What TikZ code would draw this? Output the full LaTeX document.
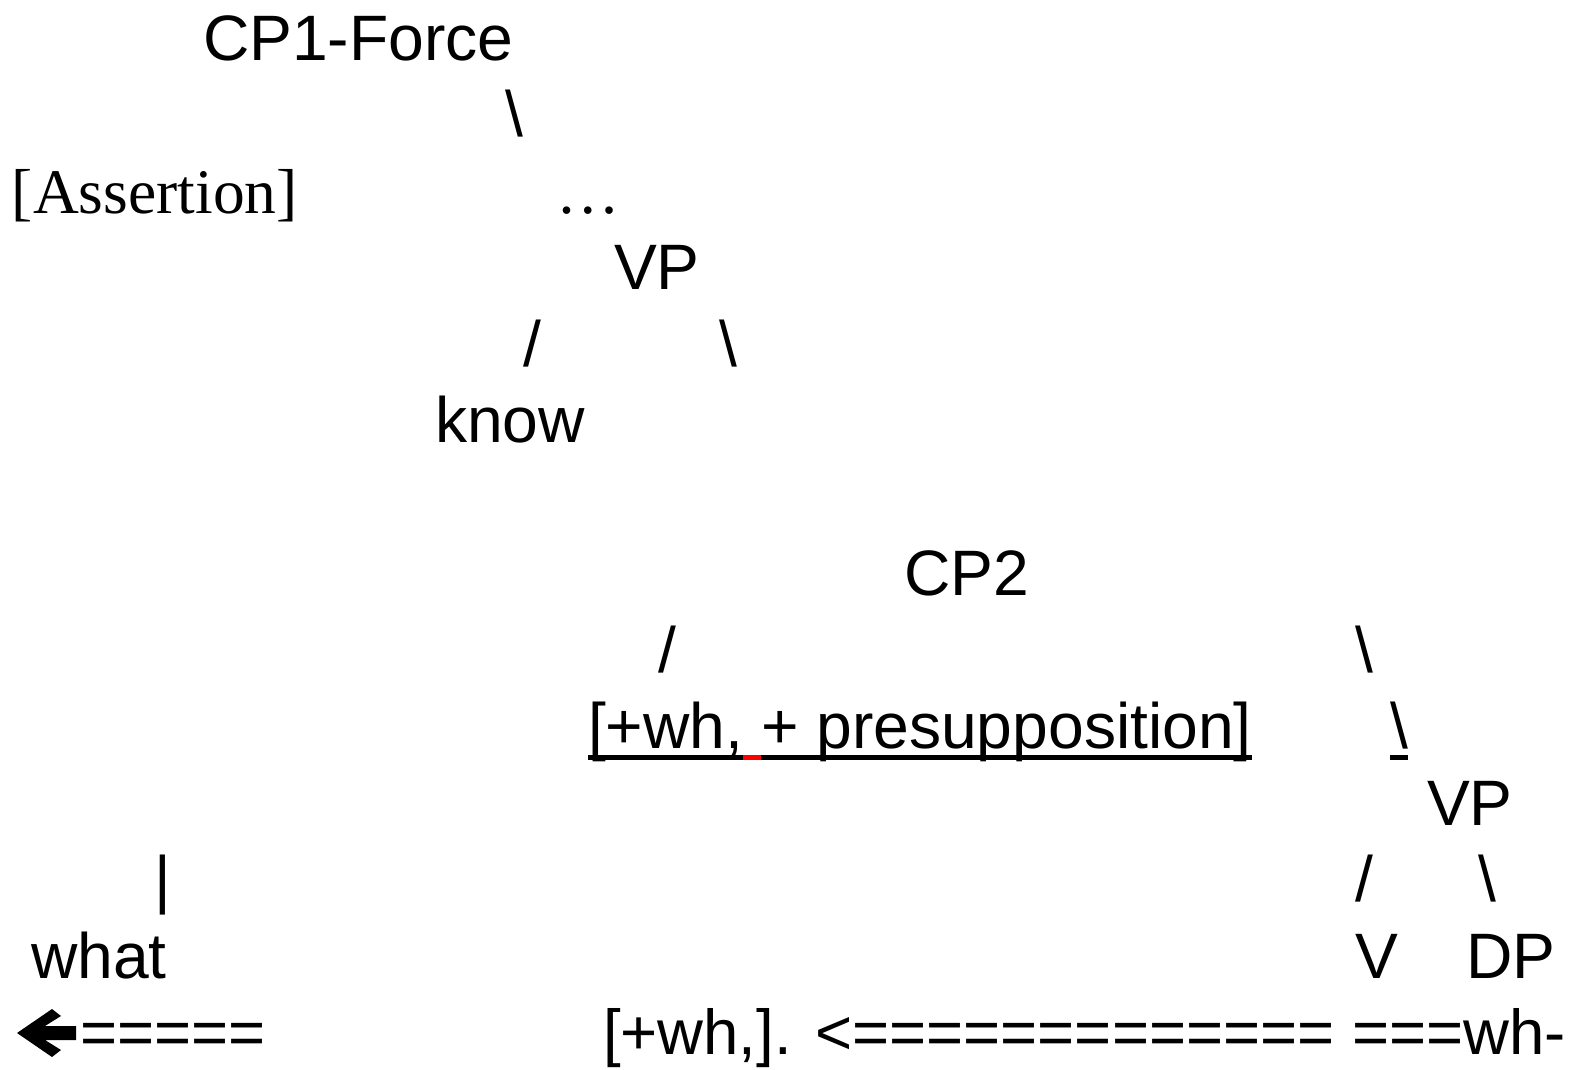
\documentclass[tikz,border=0pt]{standalone}
\usepackage{fontspec}
\setmainfont{Liberation Sans}
\newfontfamily\timesfont{Liberation Serif}
\begin{document}
\begin{tikzpicture}[x=1pt,y=-1pt,
  word/.style={inner sep=0pt, outer sep=0pt, anchor=base west,
    font=\fontsize{64.2}{64.2}\selectfont},
  lastline/.style={word, font=\fontsize{63.5}{63.5}\selectfont},
  serifword/.style={word, font=\fontsize{63.5}{63.5}\selectfont\timesfont},
  uline/.style={line width=4.4pt},
  redline/.style={uline, draw=red}]
\useasboundingbox (0,0) rectangle (1571,1069);

% upper tree: CP1-Force down to know
\node[word] (cp1) at (203,60) {CP1-Force};
\node[word] (cp1br) at (505,136.5) {\textbackslash};
\node[serifword] (assert) at (12,213) {[Assertion]};
\node[serifword] (dots) at (556,213) {…};
\node[word] (vp1) at (614,289.5) {VP};
\node[word] (vp1l) at (523,366) {/};
\node[word] (vp1r) at (719,366) {\textbackslash};
\node[word] (know) at (435,442.5) {know};

% embedded clause: CP2
\node[word] (cp2) at (904,595.5) {CP2};
\node[word] (cp2l) at (658,672) {/};
\node[word] (cp2r) at (1355,672) {\textbackslash};
\node[word] (featA) at (588,748.5) {[+wh,};
\node[word, xshift=17.85pt] (featB) at (featA.base east) {+ presupposition]};
\node[word] (cp2r2) at (1390,748.5) {\textbackslash};

% underlining of the feature bundle
\draw[uline] ([yshift=-9pt]featA.base west) -- ([yshift=-9pt]featA.base east);
\draw[redline] ([yshift=-9pt]featA.base east) -- ([yshift=-9pt]featB.base west);
\draw[uline] ([yshift=-9pt]featB.base west) -- ([yshift=-9pt]featB.base east);
\draw[uline] ([yshift=-9pt]cp2r2.base west) -- ([yshift=-9pt]cp2r2.base east);

% lower VP
\node[word] (vp2) at (1427,825) {VP};
\node[word] (vp2l) at (1355,901.5) {/};
\node[word] (vp2r) at (1478,901.5) {\textbackslash};
\node[word] (v) at (1355,978) {V};
\node[word] (dp) at (1466,978) {DP};

% moved wh-word
\node[word] (bar) at (154,901.5) {|};
\node[word] (what) at (31,978) {what};

% movement line
\fill ( 17,1033) -- ( 52,1009) -- ( 61,1016) -- ( 45,1026) -- ( 76,1026)
  -- ( 76,1040) -- ( 45,1040) -- ( 61,1050) -- ( 52,1057) -- cycle;
\node[lastline] (eqL) at (80,1054.5) {=====};
\node[lastline] (trace) at (603,1054.5) {[+wh,]. <============= ===wh-};
\end{tikzpicture}
\end{document}
